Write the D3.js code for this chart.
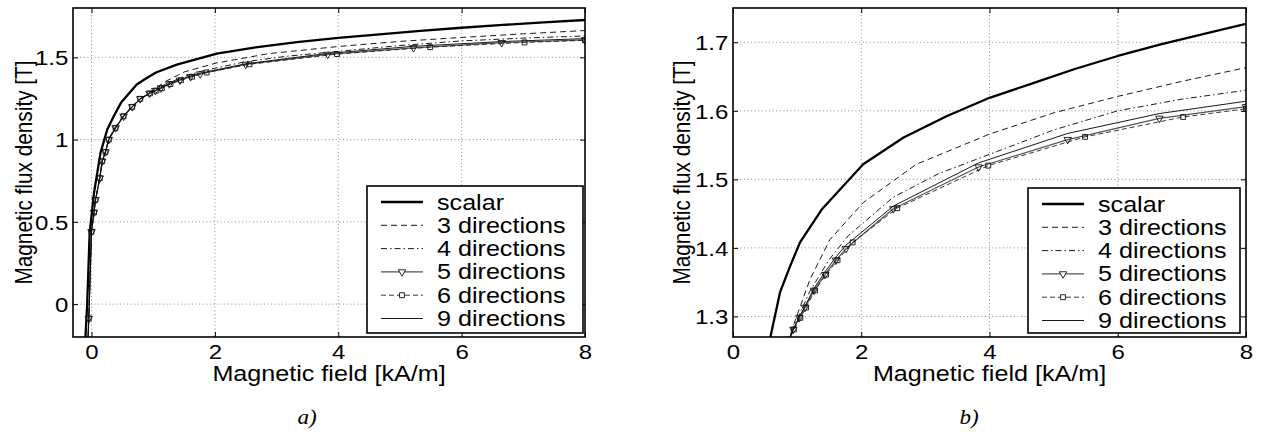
<!DOCTYPE html>
<html>
<head>
<meta charset="utf-8">
<script src="https://cdn.jsdelivr.net/npm/d3@7"></script>
<style>
  html, body { margin: 0; padding: 0; background: #fff; }
  svg { display: block; }
  text { font-family: "Liberation Sans", Arial, Helvetica, sans-serif; fill: #000; }
  .caption { font-family: "Liberation Serif", "Times New Roman", serif; font-style: italic; }
</style>
</head>
<body>
<svg id="fig" width="1263" height="432"></svg>
<script>
// ---- B-H curve data: magnetic field H [kA/m], flux density B [T] ----
const seriesNames = ["scalar", "3 directions", "4 directions", "5 directions", "6 directions", "9 directions"];

const hScalar = [-0.105, -0.07, -0.03, 0.04, 0.146, 0.254, 0.36, 0.48, 0.733, 0.889, 1.045, 1.383, 2.03, 2.66, 3.33, 4.0, 4.67, 5.33, 6.0, 6.67, 7.33, 8.0];
const bScalar = [-0.25, 0.0, 0.43, 0.675, 0.919, 1.06, 1.142, 1.225, 1.335, 1.373, 1.408, 1.456, 1.522, 1.561, 1.592, 1.619, 1.640, 1.661, 1.680, 1.697, 1.712, 1.727];

const hDir3 = [-0.06, -0.044, 0.0, 0.04, 0.065, 0.135, 0.173, 0.227, 0.28, 0.39, 0.52, 0.66, 0.79, 0.90, 1.0, 1.2, 1.51, 2.03, 2.86, 4.0, 5.0, 6.0, 7.0, 8.0];
const bDir3 = [-0.25, -0.087, 0.44, 0.557, 0.634, 0.77, 0.872, 0.93, 1.007, 1.08, 1.145, 1.205, 1.245, 1.275, 1.302, 1.354, 1.412, 1.466, 1.522, 1.566, 1.597, 1.621, 1.643, 1.663];

const hDir4 = [-0.06, -0.044, 0.0, 0.04, 0.065, 0.135, 0.173, 0.227, 0.28, 0.39, 0.52, 0.66, 0.79, 0.94, 1.2, 1.5, 1.8, 2.5, 3.2, 4.0, 5.0, 6.0, 7.0, 8.0];
const bDir4 = [-0.25, -0.087, 0.44, 0.557, 0.634, 0.768, 0.87, 0.927, 1.003, 1.075, 1.144, 1.201, 1.249, 1.283, 1.337, 1.383, 1.418, 1.474, 1.508, 1.5365, 1.572, 1.600, 1.617, 1.630];

const hDir5 = [-0.06, -0.044, 0.0, 0.04, 0.065, 0.135, 0.173, 0.227, 0.28, 0.39, 0.52, 0.66, 0.79, 0.94, 1.034, 1.123, 1.263, 1.435, 1.606, 1.762, 2.50, 3.83, 5.22, 6.65, 8.0];
const bDir5 = [-0.25, -0.087, 0.44, 0.557, 0.634, 0.766, 0.868, 0.925, 1.0, 1.071, 1.142, 1.199, 1.248, 1.281, 1.298, 1.313, 1.338, 1.361, 1.382, 1.399, 1.457, 1.518, 1.558, 1.589, 1.606];

const hDir6 = [-0.06, -0.044, 0.0, 0.04, 0.065, 0.135, 0.173, 0.227, 0.28, 0.39, 0.52, 0.66, 0.79, 0.95, 1.05, 1.14, 1.28, 1.45, 1.63, 1.866, 2.56, 3.98, 5.49, 7.02, 8.0];
const bDir6 = [-0.25, -0.087, 0.44, 0.557, 0.634, 0.766, 0.868, 0.925, 1.0, 1.071, 1.142, 1.199, 1.248, 1.281, 1.298, 1.313, 1.338, 1.361, 1.382, 1.408, 1.458, 1.520, 1.562, 1.591, 1.603];

const hDir9 = [-0.06, -0.044, 0.0, 0.04, 0.065, 0.135, 0.173, 0.227, 0.28, 0.39, 0.52, 0.66, 0.79, 0.94, 1.034, 1.123, 1.263, 1.435, 1.606, 1.762, 2.50, 3.83, 5.22, 6.65, 8.0];
const bDir9 = [-0.25, -0.087, 0.44, 0.557, 0.634, 0.766, 0.868, 0.925, 1.0, 1.071, 1.142, 1.199, 1.248, 1.281, 1.299, 1.315, 1.341, 1.365, 1.387, 1.404, 1.461, 1.524, 1.567, 1.596, 1.614];

// ---- axis ticks ----
const xTicks = [0, 2, 4, 6, 8];
const xTickLabels = ["0", "2", "4", "6", "8"];
const yTicksA = [0, 0.5, 1, 1.5];
const yTickLabelsA = ["0", "0.5", "1", "1.5"];
const yTicksB = [1.3, 1.4, 1.5, 1.6, 1.7];
const yTickLabelsB = ["1.3", "1.4", "1.5", "1.6", "1.7"];

const xLabel = "Magnetic field [kA/m]";
const yLabel = "Magnetic flux density [T]";

// ---- line styles per series ----
const styles = [
  { color: "#000", width: 2.3, dash: null, marker: null },
  { color: "#000", width: 0.9, dash: "6,4", marker: null },
  { color: "#000", width: 0.9, dash: "6,3,1.5,3", marker: null },
  { color: "#555", width: 1.2, dash: null, marker: "tri" },
  { color: "#222", width: 0.9, dash: "5,3", marker: "sq" },
  { color: "#000", width: 0.9, dash: null, marker: null }
];

const seriesData = [
  d3.zip(hScalar, bScalar),
  d3.zip(hDir3, bDir3),
  d3.zip(hDir4, bDir4),
  d3.zip(hDir5, bDir5),
  d3.zip(hDir6, bDir6),
  d3.zip(hDir9, bDir9)
];

const svg = d3.select("#fig");
const defs = svg.append("defs");
const SX = 1.17;      // horizontal stretch of the lettering

function markerPath(kind) {
  if (kind === "tri") return d3.symbol(d3.symbolTriangle, 24)();
  return d3.symbol(d3.symbolSquare, 24)();
}

function drawPanel(cfg) {
  const x = d3.scaleLinear().domain(cfg.xDomain).range([cfg.left, cfg.right]);
  const y = d3.scaleLinear().domain(cfg.yDomain).range([cfg.bottom, cfg.top]);
  const g = svg.append("g");

  defs.append("clipPath").attr("id", "clip-" + cfg.id)
    .append("rect")
    .attr("x", cfg.left).attr("y", cfg.top)
    .attr("width", cfg.right - cfg.left).attr("height", cfg.bottom - cfg.top);

  // dotted grid
  const grid = g.append("g").attr("stroke", "#8a8a8a").attr("stroke-width", 1)
    .attr("stroke-dasharray", "1,2.6");
  grid.selectAll("line.gx").data(xTicks.filter(d => d > cfg.xDomain[0] && d < cfg.xDomain[1])).join("line")
    .attr("x1", d => x(d)).attr("x2", d => x(d))
    .attr("y1", cfg.top).attr("y2", cfg.bottom);
  grid.selectAll("line.gy").data(cfg.yTicks).join("line")
    .attr("x1", cfg.left).attr("x2", cfg.right)
    .attr("y1", d => y(d)).attr("y2", d => y(d));

  // curves
  const plot = g.append("g").attr("clip-path", `url(#clip-${cfg.id})`);
  const line = d3.line().x(d => x(d[0])).y(d => y(d[1]));
  seriesData.forEach((data, i) => {
    const st = styles[i];
    plot.append("path").datum(data)
      .attr("d", line)
      .attr("fill", "none")
      .attr("stroke", st.color)
      .attr("stroke-width", st.width)
      .attr("stroke-dasharray", st.dash)
      .attr("stroke-linejoin", "round");
  });
  seriesData.forEach((data, i) => {
    const st = styles[i];
    if (!st.marker) return;
    plot.append("g").selectAll("path").data(data).join("path")
      .attr("d", markerPath(st.marker))
      .attr("transform", d => `translate(${x(d[0])},${y(d[1])})` + (st.marker === "tri" ? " rotate(180)" : ""))
      .attr("fill", "none")
      .attr("stroke", "#111")
      .attr("stroke-width", 0.9);
  });

  // axes with inward ticks on all four sides
  const tick = 5;
  const axB = g.append("g").attr("transform", `translate(0,${cfg.bottom})`)
    .call(d3.axisBottom(x).tickValues(xTicks).tickSizeInner(-tick).tickSizeOuter(0)
      .tickPadding(7).tickFormat((d, i) => xTickLabels[i]));
  const axT = g.append("g").attr("transform", `translate(0,${cfg.top})`)
    .call(d3.axisTop(x).tickValues(xTicks).tickSizeInner(-tick).tickSizeOuter(0).tickFormat(""));
  const axL = g.append("g").attr("transform", `translate(${cfg.left},0)`)
    .call(d3.axisLeft(y).tickValues(cfg.yTicks).tickSizeInner(-tick).tickSizeOuter(0)
      .tickPadding(4).tickFormat((d, i) => cfg.yTickLabels[i]));
  const axR = g.append("g").attr("transform", `translate(${cfg.right},0)`)
    .call(d3.axisRight(y).tickValues(cfg.yTicks).tickSizeInner(-tick).tickSizeOuter(0).tickFormat(""));
  [axB, axT, axL, axR].forEach(a => {
    a.select(".domain").remove();
    a.selectAll("line").attr("stroke", "#000").attr("stroke-width", 1);
  });
  [axB, axL].forEach(a => {
    a.selectAll("text")
      .attr("font-family", '"Liberation Sans", Arial, sans-serif')
      .attr("font-size", 20.5)
      .attr("fill", "#000")
      .attr("transform", `scale(${SX},1)`);
  });
  axL.selectAll("text").attr("dy", "0.36em");

  // frame
  g.append("rect")
    .attr("x", cfg.left).attr("y", cfg.top)
    .attr("width", cfg.right - cfg.left).attr("height", cfg.bottom - cfg.top)
    .attr("fill", "none").attr("stroke", "#000").attr("stroke-width", 1.6);

  // axis titles
  g.append("text")
    .attr("transform", `translate(${(cfg.left + cfg.right) / 2},${cfg.bottom + 44}) scale(${SX},1)`)
    .attr("text-anchor", "middle").attr("font-size", 21.5)
    .text(xLabel);
  g.append("text")
    .attr("transform", `translate(${cfg.yLabelX},${(cfg.top + cfg.bottom) / 2}) rotate(-90) scale(1,${SX})`)
    .attr("text-anchor", "middle").attr("font-size", 20.8)
    .text(yLabel);

  // legend
  const lg = g.append("g").attr("transform", `translate(${cfg.legend.x},${cfg.legend.y})`);
  lg.append("rect").attr("width", cfg.legend.w).attr("height", cfg.legend.h)
    .attr("fill", "#fff").attr("stroke", "#000").attr("stroke-width", 1.6);
  seriesNames.forEach((name, i) => {
    const st = styles[i];
    const yy = 16 + i * 23.3;
    lg.append("line")
      .attr("x1", 14).attr("x2", 56).attr("y1", yy).attr("y2", yy)
      .attr("stroke", st.color).attr("stroke-width", st.width)
      .attr("stroke-dasharray", st.dash);
    if (st.marker) {
      lg.append("path").attr("d", markerPath(st.marker))
        .attr("transform", `translate(35,${yy})` + (st.marker === "tri" ? " rotate(180)" : ""))
        .attr("fill", "#fff").attr("stroke", "#111").attr("stroke-width", 0.9);
    }
    lg.append("text")
      .attr("transform", `translate(70,${yy + 7.5}) scale(${SX},1)`)
      .attr("font-size", 21.5)
      .text(name);
  });

  // caption
  svg.append("text").attr("class", "caption")
    .attr("transform", `translate(${cfg.capX},424) scale(1.1,1)`)
    .attr("text-anchor", "middle").attr("font-size", 21)
    .text(cfg.caption);
}

drawPanel({
  id: "a", left: 73, right: 585, top: 8, bottom: 337,
  xDomain: [-0.3, 8], yDomain: [-0.2, 1.8],
  yTicks: yTicksA, yTickLabels: yTickLabelsA, yLabelX: 32,
  legend: { x: 367, y: 186, w: 216, h: 147 },
  caption: "a)", capX: 307
});
drawPanel({
  id: "b", left: 733, right: 1246, top: 8, bottom: 337,
  xDomain: [0, 8], yDomain: [1.27, 1.75],
  yTicks: yTicksB, yTickLabels: yTickLabelsB, yLabelX: 690,
  legend: { x: 1028, y: 188, w: 212, h: 145 },
  caption: "b)", capX: 969
});
</script>
</body>
</html>
